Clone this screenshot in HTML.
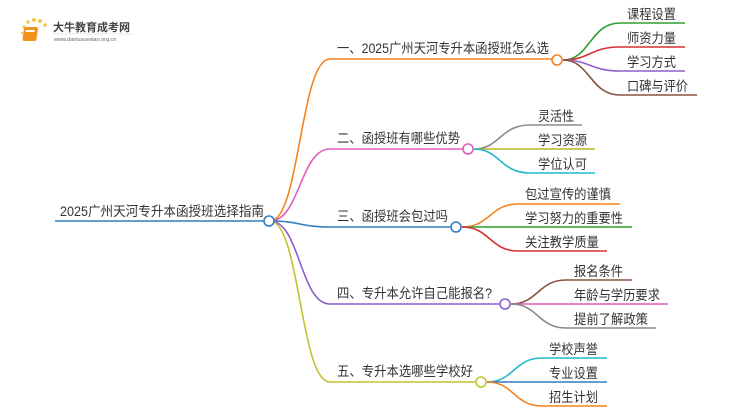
<!DOCTYPE html>
<html><head><meta charset="utf-8"><style>
body{margin:0;background:#fff;width:750px;height:410px;overflow:hidden}
text{font-family:"Liberation Sans","Noto Sans CJK SC",sans-serif;fill:#333}
</style></head><body>
<svg width="750" height="410" viewBox="0 0 750 410" xmlns="http://www.w3.org/2000/svg">
<g fill="none" stroke-width="1.6">
<path d="M55 221H264" stroke="#2f7fc1"/>
<path d="M270 221C300 221 300 59 330 59H552" stroke="#f5821f"/>
<path d="M270 221C300 221 300 149 330 149H463" stroke="#e05cbf"/>
<path d="M270 221C300 221 300 227 330 227H451" stroke="#2f7fc1"/>
<path d="M270 221C300 221 300 304 330 304H500" stroke="#8e5fc9"/>
<path d="M270 221C300 221 300 382 330 382H476" stroke="#c4c232"/>
<path d="M563 60C590 60 590 23 620 23H685" stroke="#2ea12e"/>
<path d="M563 60C590 60 590 47 620 47H685" stroke="#d9302f"/>
<path d="M563 60C590 60 590 71 620 71H685" stroke="#8e5fc9"/>
<path d="M563 60C590 60 590 95 620 95H697" stroke="#8a5242"/>
<path d="M474 149C500 149 500 125 530 125H582" stroke="#8a8a8a"/>
<path d="M474 149H595" stroke="#b9b521"/>
<path d="M474 149C500 149 500 173 530 173H595" stroke="#22b8cf"/>
<path d="M462 227C490 227 490 204 518 204H620" stroke="#f5821f"/>
<path d="M462 227H632" stroke="#2ea12e"/>
<path d="M462 227C490 227 490 251 518 251H607" stroke="#d9302f"/>
<path d="M511 304C538 304 538 280 566 280H632" stroke="#8a5242"/>
<path d="M511 304H668" stroke="#e05cbf"/>
<path d="M511 304C538 304 538 328 566 328H656" stroke="#8a8a8a"/>
<path d="M487 382C514 382 514 358 542 358H607" stroke="#22b8cf"/>
<path d="M487 382H607" stroke="#2f7fc1"/>
<path d="M487 382C514 382 514 406 542 406H607" stroke="#f5821f"/>
<circle cx="269" cy="221" r="5" stroke="#2f7fc1" fill="#fff"/>
<circle cx="557" cy="60" r="5" stroke="#f5821f" fill="#fff"/>
<circle cx="468" cy="149" r="5" stroke="#e05cbf" fill="#fff"/>
<circle cx="456" cy="227" r="5" stroke="#2f7fc1" fill="#fff"/>
<circle cx="505" cy="304" r="5" stroke="#8e5fc9" fill="#fff"/>
<circle cx="481" cy="382" r="5" stroke="#c4c232" fill="#fff"/>
</g>
<g font-size="13.5" lengthAdjust="spacingAndGlyphs">
<text x="60" y="216" textLength="204" lengthAdjust="spacingAndGlyphs">2025广州天河专升本函授班选择指南</text>
<text x="337" y="53" textLength="212" lengthAdjust="spacingAndGlyphs">一、2025广州天河专升本函授班怎么选</text>
<text x="337" y="143" textLength="123" lengthAdjust="spacingAndGlyphs">二、函授班有哪些优势</text>
<text x="337" y="221" textLength="111" lengthAdjust="spacingAndGlyphs">三、函授班会包过吗</text>
<text x="337" y="298" textLength="155" lengthAdjust="spacingAndGlyphs">四、专升本允许自己能报名?</text>
<text x="337" y="376" textLength="136" lengthAdjust="spacingAndGlyphs">五、专升本选哪些学校好</text>
<text x="627" y="19" textLength="49" lengthAdjust="spacingAndGlyphs">课程设置</text>
<text x="627" y="43" textLength="49" lengthAdjust="spacingAndGlyphs">师资力量</text>
<text x="627" y="67" textLength="49" lengthAdjust="spacingAndGlyphs">学习方式</text>
<text x="627" y="91" textLength="61" lengthAdjust="spacingAndGlyphs">口碑与评价</text>
<text x="538" y="121" textLength="36" lengthAdjust="spacingAndGlyphs">灵活性</text>
<text x="538" y="145" textLength="49" lengthAdjust="spacingAndGlyphs">学习资源</text>
<text x="538" y="169" textLength="49" lengthAdjust="spacingAndGlyphs">学位认可</text>
<text x="525" y="199" textLength="86" lengthAdjust="spacingAndGlyphs">包过宣传的谨慎</text>
<text x="525" y="223" textLength="98" lengthAdjust="spacingAndGlyphs">学习努力的重要性</text>
<text x="525" y="247" textLength="74" lengthAdjust="spacingAndGlyphs">关注教学质量</text>
<text x="574" y="276" textLength="49" lengthAdjust="spacingAndGlyphs">报名条件</text>
<text x="574" y="300" textLength="86" lengthAdjust="spacingAndGlyphs">年龄与学历要求</text>
<text x="574" y="324" textLength="74" lengthAdjust="spacingAndGlyphs">提前了解政策</text>
<text x="549" y="354" textLength="49" lengthAdjust="spacingAndGlyphs">学校声誉</text>
<text x="549" y="378" textLength="49" lengthAdjust="spacingAndGlyphs">专业设置</text>
<text x="549" y="402" textLength="49" lengthAdjust="spacingAndGlyphs">招生计划</text>
</g>
<g>
<circle cx="24" cy="27" r="1.5" fill="#f7c548"/><circle cx="28" cy="22" r="1.8" fill="#f7c548"/>
<circle cx="34" cy="20" r="2" fill="#f7c548"/><circle cx="40" cy="21" r="2" fill="#f7c548"/>
<circle cx="45" cy="25" r="1.8" fill="#f7c548"/><circle cx="22" cy="33" r="1.2" fill="#f7c548"/>
<rect x="28" y="27" width="14" height="14" rx="2" fill="#f29418" transform="skewX(-8)"/>
<rect x="30" y="30" width="9" height="2" fill="#fff" transform="skewX(-8)"/>
<text x="53" y="31" font-size="11" font-weight="bold" style="fill:#444">大牛教育成考网</text>
<line x1="53" y1="34" x2="132" y2="34" stroke="#ccc" stroke-width="0.6"/>
<text x="54" y="41" font-size="5.5" style="fill:#666">www.daniuxuexiao.org.cn</text>
</g>
</svg>
</body></html>
